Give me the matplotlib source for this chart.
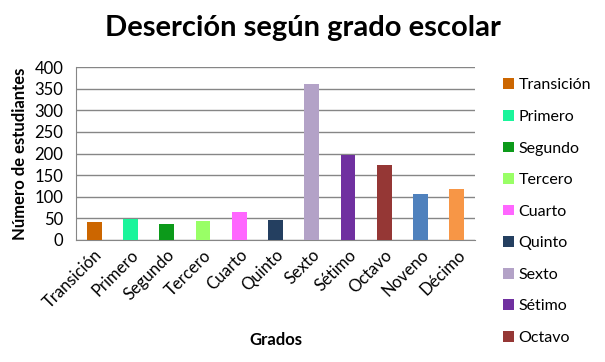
import matplotlib
matplotlib.use("Agg")
import matplotlib.pyplot as plt
from matplotlib.patches import Patch

# data
grados = ["Transición", "Primero", "Segundo", "Tercero", "Cuarto", "Quinto",
          "Sexto", "Sétimo", "Octavo", "Noveno", "Décimo"]
desercion = [42, 48, 38, 44, 65, 47, 361, 196, 173, 106, 118]
colores = ["#CC6600", "#1AF59B", "#0C9A1A", "#99FF66", "#FF66FF", "#243F60",
           "#B3A2C7", "#7030A0", "#953735", "#4F81BD", "#F79646"]
# the legend box of the original only has room for the first nine grades
n_leyenda = 9

plt.rcParams["font.family"] = ["Lato", "DejaVu Sans"]

fig = plt.figure(figsize=(6.05, 3.62), dpi=100)
ax = fig.add_axes([76 / 605, 1 - 240 / 362, 399 / 605, 173 / 362])

x = range(len(grados))
ax.bar(x, desercion, width=0.41, color=colores, zorder=3)

ax.set_ylim(0, 400)
ax.set_xlim(-0.5, len(grados) - 0.5)
ax.set_yticks(range(0, 401, 50))
ax.tick_params(axis="y", labelsize=12, length=0, pad=9)
ax.tick_params(axis="x", labelsize=12, length=0, pad=5)
ax.set_xticks(list(x))
ax.set_xticklabels(grados, rotation=45, ha="right", rotation_mode="anchor")
ax.yaxis.grid(True, color="#868686", linewidth=1, zorder=0)
for s in ["top", "right"]:
    ax.spines[s].set_visible(False)
ax.spines["left"].set_color("#868686")
ax.spines["bottom"].set_color("#868686")

ax.set_ylabel("Número de estudiantes", fontsize=12, fontweight="bold", labelpad=5)
ax.set_xlabel("Grados", fontsize=12, fontweight="bold", labelpad=15)
fig.text(0.5, 1 - 28 / 362, "Deserción según grado escolar", ha="center", va="center",
         fontsize=21, fontweight="bold")

handles = [Patch(facecolor=c, edgecolor="none") for c in colores[:n_leyenda]]
fig.legend(handles, grados[:n_leyenda], loc="upper left",
           bbox_to_anchor=(497 / 605, 1 - 72 / 362),
           frameon=False, fontsize=11.5, handlelength=0.65, handleheight=0.65,
           handletextpad=0.3, labelspacing=1.1, borderaxespad=0)

plt.savefig("out.png", dpi=100)
